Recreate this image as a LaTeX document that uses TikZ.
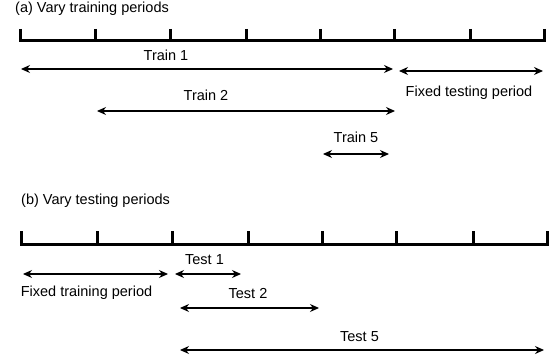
\documentclass[tikz,border=0pt]{standalone}
\usepackage{fontspec}
\setmainfont{Liberation Sans}
\usetikzlibrary{arrows.meta}
\begin{document}
\begin{tikzpicture}[x=1pt,y=-1pt,
  lbl/.style={font=\fontsize{14.5}{17}\selectfont, inner sep=0pt, anchor=base},
  ttl/.style={font=\fontsize{14.5}{17}\selectfont, inner sep=0pt, anchor=base west},
  axisline/.style={line width=3pt, line cap=rect},
  ticksty/.style={line width=3pt},
  span/.style={line width=1.2pt, {Stealth[length=9pt,width=8pt]}-{Stealth[length=9pt,width=8pt]}}]
\useasboundingbox (0,0) rectangle (556,363);

% ---------- (a) ----------
\node[ttl] (ta) at (15,13) {(a) Vary training periods};
\foreach \x [count=\i] in {20,95,170,246,320,394,470,544} {
  \coordinate (a\i) at (\x,41);
  \coordinate (at\i) at (\x,29);
  \draw[ticksty] (at\i) -- (a\i);
}
\draw[axisline] (a1) -- (a8);

\coordinate (tr1l) at (21,69);  \coordinate (tr1r) at (393,69);
\coordinate (ftl)  at (399,71); \coordinate (ftr)  at (543,71);
\coordinate (tr2l) at (97,111); \coordinate (tr2r) at (395,111);
\coordinate (tr5l) at (323,154);\coordinate (tr5r) at (389,154);
\draw[span] (tr1l) -- (tr1r);
\draw[span] (ftl) -- (ftr);
\draw[span] (tr2l) -- (tr2r);
\draw[span] (tr5l) -- (tr5r);
\node[lbl] (l1) at (166,61) {Train 1};
\node[lbl] (l2) at (206,101) {Train 2};
\node[lbl] (l5) at (356,142.5) {Train 5};
\node[lbl] (lf) at (469,96.5) {Fixed testing period};

% ---------- (b) ----------
\node[ttl] (tb) at (21,205) {(b) Vary testing periods};
\foreach \x [count=\i] in {21,97,172,248,322,396,473,547} {
  \coordinate (b\i) at (\x,244);
  \coordinate (bt\i) at (\x,231);
  \draw[ticksty] (bt\i) -- (b\i);
}
\draw[axisline] (b1) -- (b8);

\coordinate (fpl) at (23,274);  \coordinate (fpr) at (168,274);
\coordinate (te1l) at (175,274);\coordinate (te1r) at (241,274);
\coordinate (te2l) at (180,308);\coordinate (te2r) at (319,308);
\coordinate (te5l) at (180,350);\coordinate (te5r) at (544,350);
\draw[span] (fpl) -- (fpr);
\draw[span] (te1l) -- (te1r);
\draw[span] (te2l) -- (te2r);
\draw[span] (te5l) -- (te5r);
\node[lbl] (m1) at (204.5,264) {Test 1};
\node[lbl] (mf) at (86.5,296) {Fixed training period};
\node[lbl] (m2) at (248,298) {Test 2};
\node[lbl] (m5) at (359.5,341) {Test 5};
\end{tikzpicture}
\end{document}
